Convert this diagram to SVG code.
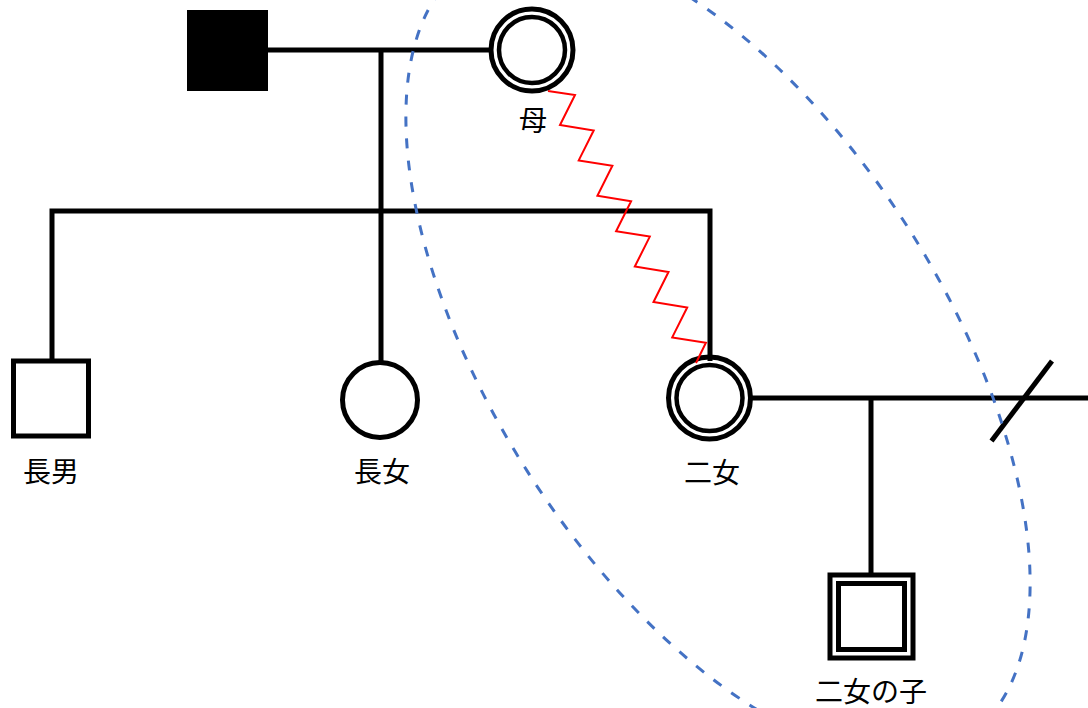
<svg xmlns="http://www.w3.org/2000/svg" width="1088" height="708" viewBox="0 0 1088 708">
  <style>
    .ln { fill: none; stroke: #000; stroke-width: 5; stroke-linejoin: miter; }
    .nd { fill: #fff; stroke: #000; stroke-width: 5; }
    .nd2 { fill: none; stroke: #000; stroke-width: 4.5; }
    .lbl { font-family: "Noto Sans CJK JP", "Noto Sans", sans-serif; font-size: 28px; fill: #000; text-anchor: middle; }
    .zig { fill: none; stroke: #ff0000; stroke-width: 2; stroke-linejoin: miter; }
    .grp { fill: none; stroke: #4472c4; stroke-width: 3; stroke-dasharray: 10 12; }
  </style>
  <rect width="1088" height="708" fill="#fff"/>

  <g id="father">
    <rect x="187" y="10" width="81" height="81" fill="#000"/>
  </g>
  <g id="mother">
    <circle class="nd" cx="532" cy="50" r="41"/>
    <circle class="nd2" cx="532" cy="50" r="33"/>
    <text class="lbl" x="533" y="131">母</text>
  </g>
  <g id="eldest-son">
    <rect class="nd" x="13.5" y="361" width="75" height="75"/>
    <text class="lbl" x="51" y="482">長男</text>
  </g>
  <g id="eldest-daughter">
    <circle class="nd" cx="380" cy="400" r="37.5"/>
    <text class="lbl" x="382" y="482">長女</text>
  </g>
  <g id="second-daughter">
    <circle class="nd" cx="709.5" cy="398" r="41"/>
    <circle class="nd2" cx="709.5" cy="398" r="33"/>
    <text class="lbl" x="712" y="483">二女</text>
  </g>
  <g id="second-daughter-child">
    <rect class="nd" x="830" y="575" width="83" height="83"/>
    <rect class="nd" x="838.5" y="583.5" width="66" height="66"/>
    <text class="lbl" x="871" y="702">二女の子</text>
  </g>

  <g id="connectors">
    <line class="ln" x1="267" y1="50" x2="491" y2="50"/>
    <line class="ln" x1="381" y1="50" x2="381" y2="362"/>
    <path class="ln" d="M52,359 V211 H710 V361"/>
    <line class="ln" x1="750" y1="398" x2="1088" y2="398"/>
    <line class="ln" x1="871" y1="398" x2="871" y2="577"/>
    <line class="ln" x1="1052" y1="361" x2="991.5" y2="441"/>
    <path class="zig" d="M548,91 L575,95 L560,125 L593.7,130.4 L578.7,160.4 L612.4,165.8 L597.4,195.8 L631.1,201.2 L616.1,231.2 L649.8,236.6 L634.8,266.6 L668.5,272 L653.5,302 L687.2,307.4 L672.2,337.4 L705.9,342.8 L696,363"/>
    <ellipse class="grp" cx="718" cy="350" rx="460" ry="226" transform="rotate(57.5 718 350)"/>
  </g>
</svg>
